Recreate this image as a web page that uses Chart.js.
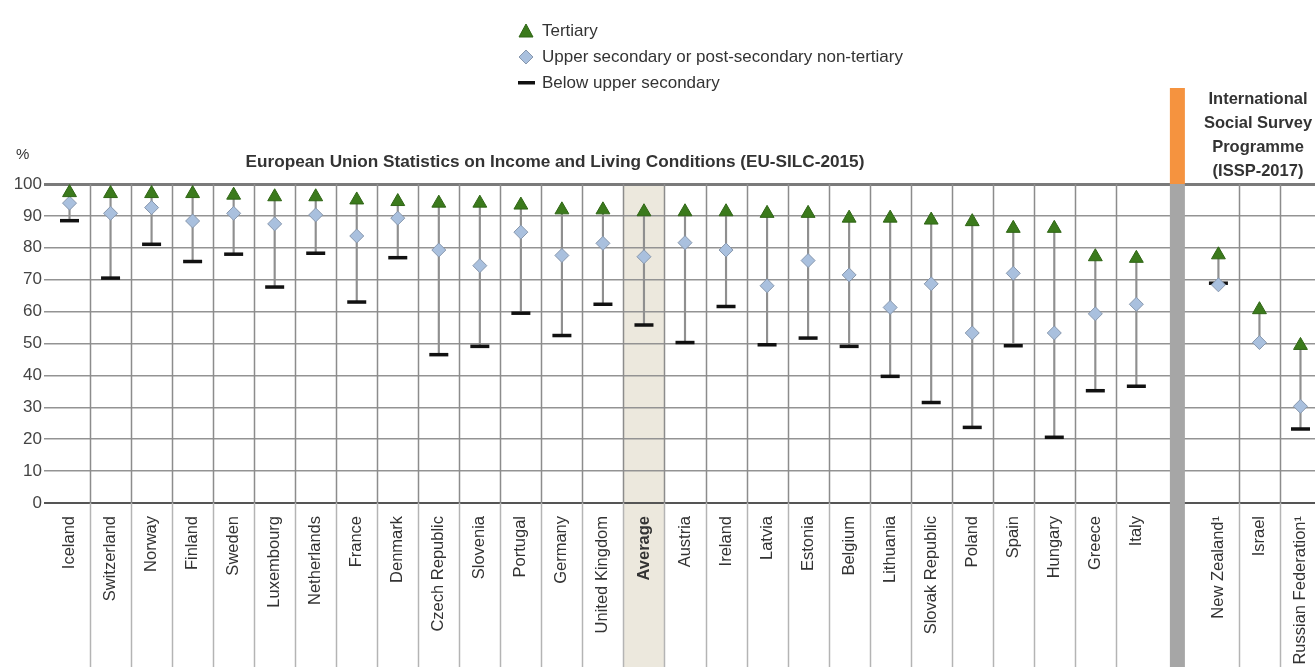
<!DOCTYPE html>
<html>
<head>
<meta charset="utf-8">
<script src="https://cdn.jsdelivr.net/npm/chart.js@4.4.1/dist/chart.umd.min.js"></script>
<style>
  html, body { margin: 0; padding: 0; background: #fff; overflow: hidden; }
  #wrap { position: relative; width: 1315px; height: 667px; overflow: hidden; }
  #wrap canvas { position: absolute; left: 0; top: 0; }
  .txt { position: absolute; font-family: "Liberation Sans", Arial, sans-serif; color: #333; white-space: nowrap; }
  .legend { font-size: 17px; left: 518px; }
  .legend div { position: absolute; left: 0; height: 20px; line-height: 20px; }
  .legend svg { position: absolute; left: 0; top: 2px; }
  .legend span { position: absolute; left: 24px; }
  #title { font-weight: bold; font-size: 17.2px; left: 555px; top: 151px; transform: translateX(-50%); }
  #pct { font-size: 15px; left: 16px; top: 145px; }
  #issp { font-weight: bold; font-size: 16.5px; line-height: 24px; left: 1258px; top: 86px; transform: translateX(-50%); text-align: center; }
</style>
</head>
<body>
<div id="wrap">
  <canvas id="chart" width="1334" height="667"></canvas>

  <div class="txt legend" style="top:21px">
    <div style="top:0"><svg width="18" height="16"><polygon points="8,1 15,14 1,14" fill="#3b7a1c" stroke="#2f6515"/></svg><span>Tertiary</span></div>
    <div style="top:26px"><svg width="18" height="16"><polygon points="8,1 15,8 8,15 1,8" fill="#a9c0de" stroke="#8797ad"/></svg><span>Upper secondary or post-secondary non-tertiary</span></div>
    <div style="top:52px"><svg width="18" height="16"><rect x="0" y="6" width="17" height="3.5" fill="#111"/></svg><span>Below upper secondary</span></div>
  </div>

  <div class="txt" id="pct">%</div>
  <div class="txt" id="title">European Union Statistics on Income and Living Conditions (EU-SILC-2015)</div>
  <div class="txt" id="issp">International<br>Social Survey<br>Programme<br>(ISSP-2017)</div>
</div>

<script>
/* ==========================================
   Data
========================================== */

const countries = [
    "Iceland", "Switzerland", "Norway", "Finland", "Sweden", "Luxembourg",
    "Netherlands", "France", "Denmark", "Czech Republic", "Slovenia",
    "Portugal", "Germany", "United Kingdom", "Average", "Austria", "Ireland",
    "Latvia", "Estonia", "Belgium", "Lithuania", "Slovak Republic", "Poland",
    "Spain", "Hungary", "Greece", "Italy",
    "",
    "New Zealand¹", "Israel", "Russian Federation¹"
];

const tertiary = [
    97.3, 97, 97, 97, 96.5, 96, 96, 95, 94.5, 94, 94,
    93.4, 91.9, 91.9, 91.3, 91.3, 91.3, 90.8, 90.8, 89.3, 89.3,
    88.7, 88.2, 86.1, 86.1, 77.2, 76.7,
    null,
    77.8, 60.6, 49.4
];

const upperSecondary = [
    94, 90.8, 92.6, 88.4, 90.8, 87.5, 90.3, 83.7, 89.3, 79.3, 74.4,
    84.9, 77.6, 81.4, 77.2, 81.6, 79.3, 68.1, 76, 71.5, 61.3,
    68.7, 53.3, 72, 53.3, 59.3, 62.3,
    null,
    68.4, 50.3, 30.3
];

const belowUpper = [
    88.5, 70.5, 81.1, 75.7, 78, 67.7, 78.3, 63, 76.9, 46.5, 49.1,
    59.5, 52.5, 62.3, 55.8, 50.3, 61.6, 49.6, 51.7, 49.1, 39.7,
    31.5, 23.7, 49.3, 20.6, 35.2, 36.6,
    null,
    68.9, null, 23.2
];

const yTicks = [0, 10, 20, 30, 40, 50, 60, 70, 80, 90, 100];

/* range line from lowest to highest value in each column */
const ranges = countries.map((c, i) => {
    const vals = [tertiary[i], upperSecondary[i], belowUpper[i]].filter(v => v !== null);
    return vals.length ? [Math.min(...vals), Math.max(...vals)] : null;
});

const sepIndex = countries.indexOf("");
const avgIndex = countries.indexOf("Average");

/* ==========================================
   Background pieces: average band, separator, column lines
========================================== */

const decor = {

    id: "decor",

    beforeDraw(chart) {
        const { ctx, chartArea, scales: { x } } = chart;
        const w = x.getPixelForValue(1) - x.getPixelForValue(0);
        const ax = x.getPixelForValue(avgIndex);

        ctx.save();
        ctx.fillStyle = "#ece8dd";
        ctx.fillRect(ax - w / 2, chartArea.top, w, chart.height - chartArea.top);
        ctx.restore();
    },

    beforeDatasetsDraw(chart) {
        const { ctx, chartArea, scales: { x } } = chart;
        const w = x.getPixelForValue(1) - x.getPixelForValue(0);

        ctx.save();

        for (let i = 1; i < countries.length; i++) {
            if (i === sepIndex || i === sepIndex + 1) continue;
            const px = Math.round(x.getPixelForValue(i) - w / 2) + 0.5;

            ctx.strokeStyle = "#8c8c8c";
            ctx.lineWidth = 1.5;
            ctx.beginPath();
            ctx.moveTo(px, chartArea.top);
            ctx.lineTo(px, chartArea.bottom);
            ctx.stroke();

            ctx.strokeStyle = "#b4b4b4";
            ctx.beginPath();
            ctx.moveTo(px, chartArea.bottom);
            ctx.lineTo(px, chart.height);
            ctx.stroke();
        }

        /* separator between the two surveys */
        const sx = x.getPixelForValue(sepIndex);
        ctx.fillStyle = "#a6a6a6";
        ctx.fillRect(sx - 7.5, chartArea.top, 15, chart.height - chartArea.top);
        ctx.fillStyle = "#f5933f";
        ctx.fillRect(sx - 7.5, chartArea.top - 96, 15, 96);

        ctx.restore();
    }

};

/* ==========================================
   Chart
========================================== */

const fontFamily = "'Liberation Sans', Arial, sans-serif";

new Chart(document.getElementById("chart"), {

    type: "bar",

    data: {
        labels: countries,
        datasets: [
            {
                type: "line",
                label: "Tertiary",
                data: tertiary,
                showLine: false,
                pointStyle: "triangle",
                pointRadius: 8,
                pointBackgroundColor: "#3b7a1c",
                pointBorderColor: "#2f6515",
                pointBorderWidth: 1,
                order: 1
            },
            {
                type: "line",
                label: "Upper secondary or post-secondary non-tertiary",
                data: upperSecondary,
                showLine: false,
                pointStyle: "rectRot",
                pointRadius: 7,
                pointBackgroundColor: "#a9c0de",
                pointBorderColor: "#8797ad",
                pointBorderWidth: 1,
                order: 2
            },
            {
                type: "line",
                label: "Below upper secondary",
                data: belowUpper,
                showLine: false,
                pointStyle: "line",
                pointRadius: 9.5,
                pointBorderColor: "#111",
                pointBorderWidth: 3.5,
                order: 3
            },
            {
                type: "bar",
                label: "range",
                data: ranges,
                backgroundColor: "#8f8f8f",
                barThickness: 1.5,
                order: 10
            }
        ]
    },

    options: {
        responsive: false,
        animation: false,
        layout: { padding: { top: 184, right: 9, left: 0, bottom: 0 } },
        plugins: {
            legend: { display: false },
            tooltip: { enabled: false }
        },
        scales: {
            x: {
                offset: true,
                grid: { display: false, drawTicks: false },
                border: { display: false },
                afterFit: scale => { scale.height = 164; },
                ticks: {
                    autoSkip: false,
                    minRotation: 90,
                    maxRotation: 90,
                    padding: 13,
                    color: "#333",
                    font: ctx => ({
                        family: fontFamily,
                        size: 16.5,
                        weight: ctx.tick && ctx.tick.label === "Average" ? "bold" : "normal"
                    })
                }
            },
            y: {
                min: 0,
                max: 100,
                afterFit: scale => { scale.width = 49; },
                afterBuildTicks: scale => {
                    scale.ticks = yTicks.map(v => ({ value: v }));
                },
                border: { display: false },
                grid: {
                    drawTicks: true,
                    tickLength: 5,
                    color: ctx => ctx.tick.value === 100 ? "#7a7a7a" : (ctx.tick.value === 0 ? "#555" : "#939393"),
                    lineWidth: ctx => ctx.tick.value === 100 ? 3 : (ctx.tick.value === 0 ? 2 : 1.5)
                },
                ticks: {
                    padding: 2,
                    color: "#444",
                    font: { family: fontFamily, size: 17 }
                }
            }
        }
    },

    plugins: [decor]

});
</script>
</body>
</html>
